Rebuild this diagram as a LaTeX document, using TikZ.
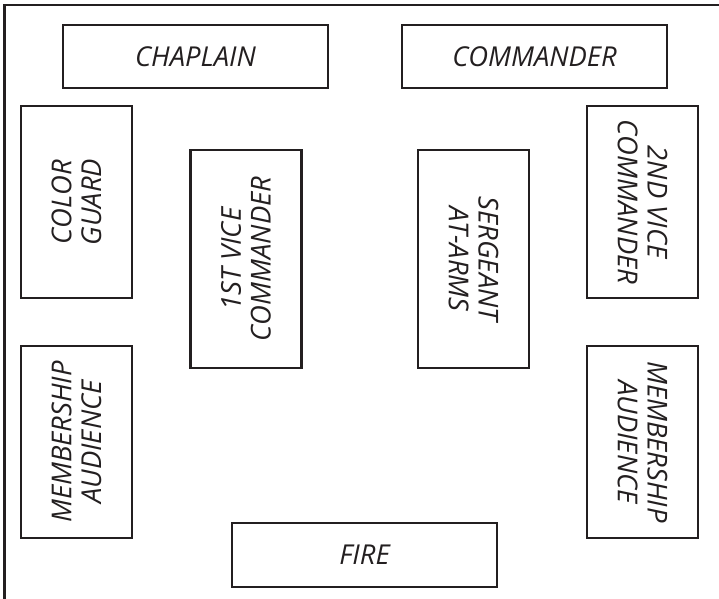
\documentclass[tikz,border=0pt]{standalone}
\usepackage{fontspec}
\newfontfamily\lblfont{Open Sans}
\definecolor{ink}{HTML}{231F20}
\begin{document}
\begin{tikzpicture}[x=1bp,y=-1bp,
  seat/.style={draw=ink, line width=2.8bp, text=ink, rectangle, inner sep=0pt,
    align=center, font=\lblfont\itshape\fontsize{27.5}{30}\selectfont},
  upward/.style={seat, rotate=90},
  downward/.style={seat, rotate=-90}]
\useasboundingbox (0,0) rectangle (719,599);
% room outline (top and left walls)
\draw[ink, line width=2.8bp] (719,5) -- (4.5,5) -- (4.5,599);
% horizontal stations
\node[seat, minimum width=265bp, minimum height=63bp] (chaplain) at (195.5,56.5) {CHAPLAIN};
\node[seat, minimum width=265bp, minimum height=63bp] (commander) at (534.5,56.5) {COMMANDER};
\node[seat, minimum width=265bp, minimum height=64bp] (fire) at (364.5,555) {FIRE};
% left side, text reading upward
\node[upward, minimum width=192bp, minimum height=111bp] (colorguard) at (76.5,202) {COLOR\\GUARD};
\node[upward, minimum width=218bp, minimum height=111bp] (firstvice) at (246,259) {1ST VICE\\COMMANDER};
\node[upward, minimum width=192bp, minimum height=111bp] (memberleft) at (76.5,442) {MEMBERSHIP\\AUDIENCE};
% right side, text reading downward
\node[downward, minimum width=218bp, minimum height=111bp] (sergeant) at (473.5,259) {SERGEANT\\AT-ARMS};
\node[downward, minimum width=192bp, minimum height=111bp] (secondvice) at (642.5,202) {2ND VICE\\COMMANDER};
\node[downward, minimum width=192bp, minimum height=111bp] (memberright) at (642.5,442) {MEMBERSHIP\\AUDIENCE};
\end{tikzpicture}
\end{document}
